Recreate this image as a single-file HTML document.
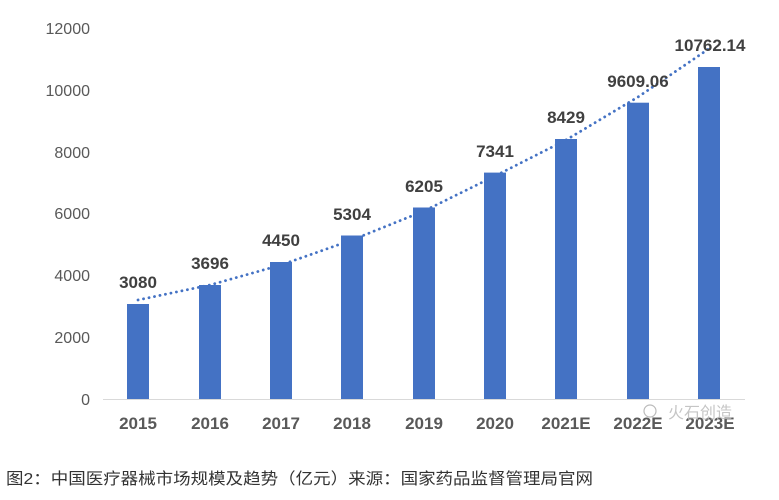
<!DOCTYPE html>
<html><head><meta charset="utf-8"><style>
body{margin:0;background:#fff;}
svg{display:block;}
</style></head><body>
<svg width="779" height="500" xmlns="http://www.w3.org/2000/svg">
<rect width="779" height="500" fill="#fff"/>
<g font-family="Liberation Sans, sans-serif" font-size="16" fill="#595959" text-anchor="end">
<text x="90" y="405">0</text>
<text x="90" y="343">2000</text>
<text x="90" y="281">4000</text>
<text x="90" y="219">6000</text>
<text x="90" y="158">8000</text>
<text x="90" y="96">10000</text>
<text x="90" y="34">12000</text>
</g>
<line x1="103" y1="399.5" x2="745" y2="399.5" stroke="#d9d9d9" stroke-width="1"/>
<g fill="#4472c4">
<rect x="127" y="304" width="22" height="95"/>
<rect x="199" y="285" width="22" height="114"/>
<rect x="270" y="262" width="22" height="137"/>
<rect x="341" y="235.5" width="22" height="163.5"/>
<rect x="413" y="207.5" width="22" height="191.5"/>
<rect x="484" y="172.6" width="22" height="226.4"/>
<rect x="555" y="139" width="22" height="260"/>
<rect x="627" y="102.7" width="22" height="296.3"/>
<rect x="698" y="67" width="22" height="332"/>
</g>
<polyline points="138,300 210,285 281,265 352,240 424,211 495,176 566,140 638,97 710,48" fill="none" stroke="#4472c4" stroke-width="2.8" stroke-dasharray="0.1 5.5" stroke-linecap="round"/>
<g font-family="Liberation Sans, sans-serif" font-size="17" font-weight="bold" fill="#404040" text-anchor="middle">
<text x="138" y="288">3080</text>
<text x="210" y="269">3696</text>
<text x="281" y="246">4450</text>
<text x="352" y="220">5304</text>
<text x="424" y="192">6205</text>
<text x="495" y="157">7341</text>
<text x="566" y="123">8429</text>
<text x="638" y="87">9609.06</text>
<text x="710" y="51">10762.14</text>
</g>
<g font-family="Liberation Sans, sans-serif" font-size="17" font-weight="bold" fill="#595959" text-anchor="middle">
<text x="138" y="429">2015</text>
<text x="210" y="429">2016</text>
<text x="281" y="429">2017</text>
<text x="352" y="429">2018</text>
<text x="424" y="429">2019</text>
<text x="495" y="429">2020</text>
<text x="566" y="429">2021E</text>
<text x="638" y="429">2022E</text>
<text x="710" y="429">2023E</text>
</g>
<text x="668" y="418" font-family="Liberation Sans, 'Noto Sans CJK SC', sans-serif" font-size="16" fill="#bbbbbb" opacity="0.85">火石创造</text>
<circle cx="650" cy="411" r="6" fill="none" stroke="#bbb" stroke-width="1.2"/>
<text x="6" y="484" textLength="587" lengthAdjust="spacingAndGlyphs" font-family="Liberation Sans, 'Noto Sans CJK SC', sans-serif" font-size="16" fill="#333">图2：中国医疗器械市场规模及趋势（亿元）来源：国家药品监督管理局官网</text>
</svg>
</body></html>
